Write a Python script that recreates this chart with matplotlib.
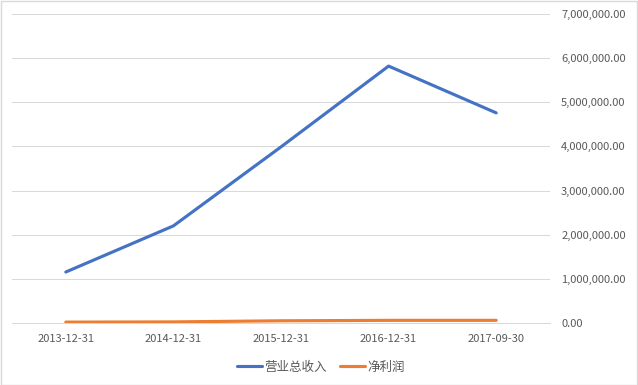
import matplotlib.pyplot as plt
from matplotlib.ticker import FuncFormatter

plt.rcParams['font.family'] = ['Noto Sans CJK SC', 'DejaVu Sans']

dates = ['2013-12-31', '2014-12-31', '2015-12-31', '2016-12-31', '2017-09-30']
revenue = [1155000, 2200000, 3990000, 5820000, 4760000]
net_profit = [20000, 25000, 50000, 60000, 60000]

fig = plt.figure(figsize=(6.38, 3.85), dpi=100)
ax = fig.add_axes([12 / 638, 1 - 323 / 385, 538 / 638, 309 / 385])

x = range(len(dates))
ax.plot(x, revenue, color='#4472C4', lw=2.25, label='营业总收入', solid_capstyle='round')
ax.plot(x, net_profit, color='#ED7D31', lw=2.25, label='净利润', solid_capstyle='round')

ax.set_xlim(-0.5, len(dates) - 0.5)
ax.set_ylim(0, 7000000)
ax.set_yticks(range(0, 7000001, 1000000))
ax.yaxis.set_major_formatter(FuncFormatter(lambda v, p: f'{v:,.2f}'))
ax.set_xticks(list(x))
ax.set_xticklabels(dates)
ax.yaxis.tick_right()
ax.tick_params(axis='both', length=0, labelsize=8, colors='#595959')
ax.tick_params(axis='y', pad=8)
ax.tick_params(axis='x', pad=8)
ax.grid(axis='y', color='#D9D9D9', lw=0.75)
ax.set_axisbelow(True)
for s in ['top', 'left', 'right']:
    ax.spines[s].set_visible(False)
ax.spines['bottom'].set_color('#D9D9D9')
ax.spines['bottom'].set_linewidth(0.75)

fig.legend(loc='lower center', bbox_to_anchor=(0.503, 0.0), ncol=2, frameon=False,
           fontsize=9, labelcolor='#595959', handlelength=2.0, handletextpad=0.25,
           columnspacing=1.0)

border = plt.Rectangle((0.001, 0.001), 0.997, 0.997, transform=fig.transFigure,
                       fill=False, edgecolor='#D9D9D9', lw=1)
fig.patches.append(border)

fig.savefig('out.png', dpi=100)
